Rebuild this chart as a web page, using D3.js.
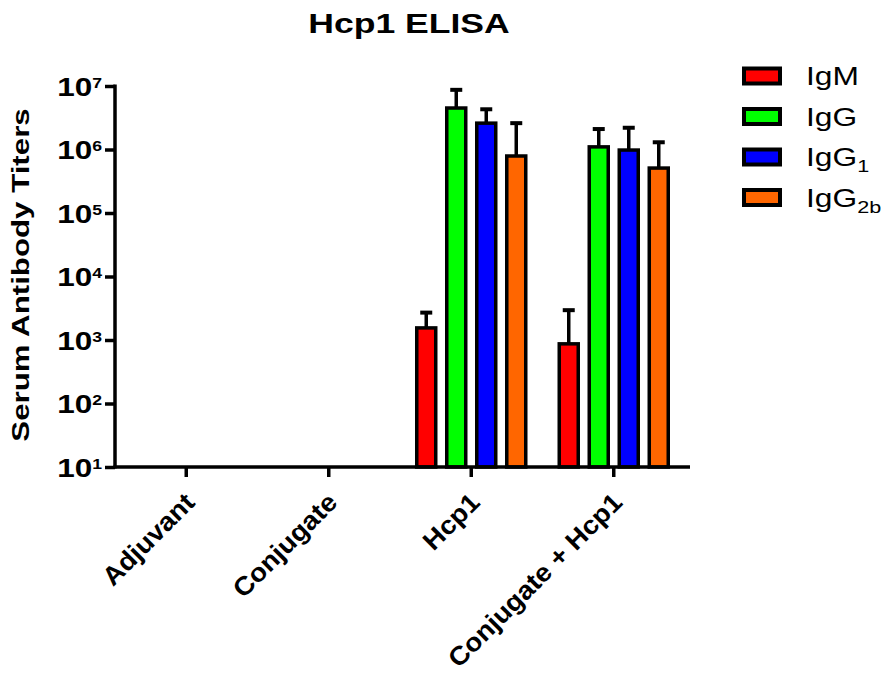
<!DOCTYPE html>
<html>
<head>
<meta charset="utf-8">
<script src="https://cdn.jsdelivr.net/npm/d3@7"></script>
<style>
  body { margin: 0; background: #fff; }
  text { font-family: Arial, "Liberation Sans", sans-serif; fill: #000; }
</style>
</head>
<body>
<div id="chart"></div>
<script>
// Data
const groups = ['Adjuvant', 'Conjugate', 'Hcp1', 'Conjugate + Hcp1'];
const seriesNames = ['IgM', 'IgG', 'IgG1', 'IgG2b'];
const seriesColors = ['#ff0000', '#00ff00', '#0000ff', '#ff6600'];
// mean titers per group (null = no bar drawn)
const igM = [null, null, 1550, 870];
const igG = [null, null, 4500000, 1100000];
const igG1 = [null, null, 2600000, 980000];
const igG2b = [null, null, 790000, 510000];
// upper end of error bars
const igMErr = [null, null, 2700, 2950];
const igGErr = [null, null, 8700000, 2100000];
const igG1Err = [null, null, 4300000, 2200000];
const igG2bErr = [null, null, 2600000, 1300000];
const yTicks = [10, 100, 1000, 10000, 100000, 1000000, 10000000];

const means = [igM, igG, igG1, igG2b];
const errs = [igMErr, igGErr, igG1Err, igG2bErr];

// Sizes
const W = 886;
const H = 676;
const margin = { top: 86, left: 115, right: W - 685, bottom: H - 467 };
const width = W - margin.left - margin.right;
const height = H - margin.top - margin.bottom;

const svg = d3.select('#chart')
  .append('svg')
  .attr('width', W)
  .attr('height', H);

const g = svg.append('g')
  .attr('transform', `translate(${margin.left},${margin.top})`);

// Scales
const x = d3.scaleBand()
  .domain(groups)
  .range([0, width]);

const x1 = d3.scaleBand()
  .domain(seriesNames)
  .range([-54.5, 54.5])
  .paddingInner(0.367);

const y = d3.scaleLog()
  .domain([10, 1e7])
  .range([height, 0]);

// Bars
const rows = [];
groups.forEach((grp, i) => {
  seriesNames.forEach((s, j) => {
    if (means[j][i] != null) {
      rows.push({ grp, s, color: seriesColors[j], v: means[j][i], e: errs[j][i] });
    }
  });
});

const bars = g.selectAll('.bar')
  .data(rows)
  .enter()
  .append('g')
  .attr('transform', (d) => `translate(${x(d.grp) + x.bandwidth() / 2},0)`);

const cx = (d) => x1(d.s) + x1.bandwidth() / 2;

// error bars
bars.append('line')
  .attr('x1', cx)
  .attr('x2', cx)
  .attr('y1', (d) => y(d.v))
  .attr('y2', (d) => y(d.e))
  .attr('stroke', '#000')
  .attr('stroke-width', 3.5);

bars.append('line')
  .attr('x1', (d) => cx(d) - 6)
  .attr('x2', (d) => cx(d) + 6)
  .attr('y1', (d) => y(d.e))
  .attr('y2', (d) => y(d.e))
  .attr('stroke', '#000')
  .attr('stroke-width', 4);

bars.append('rect')
  .attr('x', (d) => x1(d.s))
  .attr('width', x1.bandwidth())
  .attr('y', (d) => y(d.v))
  .attr('height', (d) => height - y(d.v))
  .attr('fill', (d) => d.color)
  .attr('stroke', '#000')
  .attr('stroke-width', 3.5);

// y-axis
const yAxis = g.append('g')
  .call(d3.axisLeft(y).tickValues(yTicks).tickSize(10).tickFormat(''));
yAxis.select('.domain').attr('stroke-width', 3.5).attr('d', `M0,-1.5V${height + 1.5}`);
yAxis.selectAll('.tick line').attr('stroke-width', 3.5);

yAxis.selectAll('.tick')
  .append('text')
  .attr('transform', 'translate(-13,9) scale(1.26,1)')
  .attr('text-anchor', 'end')
  .style('font-size', '25px')
  .style('font-weight', 'bold')
  .each(function (d) {
    const t = d3.select(this);
    t.append('tspan').text('10');
    t.append('tspan')
      .attr('dy', -8)
      .style('font-size', '14px')
      .text(Math.round(Math.log10(d)));
  });

// x-axis
const xAxis = g.append('g')
  .attr('transform', `translate(0,${height})`)
  .call(d3.axisBottom(x).tickSize(10).tickSizeOuter(0));
xAxis.select('.domain').attr('stroke-width', 3.5).attr('d', `M-1.5,0H${width + 5}`);
xAxis.selectAll('.tick line').attr('stroke-width', 3.5);
xAxis.selectAll('.tick text')
  .style('font-size', '26px')
  .style('font-weight', 'bold')
  .attr('text-anchor', 'end')
  .attr('x', 0)
  .attr('y', 0)
  .attr('dy', 0)
  .attr('transform', 'translate(10,37) rotate(-45) scale(1.06,1)');

// Title
svg.append('text')
  .attr('transform', 'translate(409,33) scale(1.27,1)')
  .attr('text-anchor', 'middle')
  .style('font-size', '28px')
  .style('font-weight', 'bold')
  .text('Hcp1 ELISA');

// Y label
svg.append('text')
  .attr('transform', 'translate(28.5,275) rotate(-90) scale(1.33,1)')
  .attr('text-anchor', 'middle')
  .style('font-size', '23.5px')
  .style('font-weight', 'bold')
  .text('Serum Antibody Titers');

// Legend
const legend = svg.append('g')
  .attr('transform', 'translate(744,76)');

const legendItems = legend.selectAll('g')
  .data(seriesNames)
  .enter()
  .append('g')
  .attr('transform', (d, i) => `translate(0,${i * 40.5})`);

legendItems.append('rect')
  .attr('x', 0)
  .attr('y', -7.5)
  .attr('width', 36)
  .attr('height', 15)
  .attr('fill', (d, i) => seriesColors[i])
  .attr('stroke', '#000')
  .attr('stroke-width', 4);

legendItems.append('text')
  .attr('transform', 'translate(62,9) scale(1.27,1)')
  .style('font-size', '25px')
  .each(function (d) {
    const t = d3.select(this);
    const isSub = d.length > 3 && d.slice(0, 3) === 'IgG';
    t.append('tspan').text(isSub ? 'IgG' : d);
    if (isSub) {
      t.append('tspan')
        .attr('dy', 6)
        .style('font-size', '17px')
        .text(d.slice(3));
    }
  });
</script>
</body>
</html>
